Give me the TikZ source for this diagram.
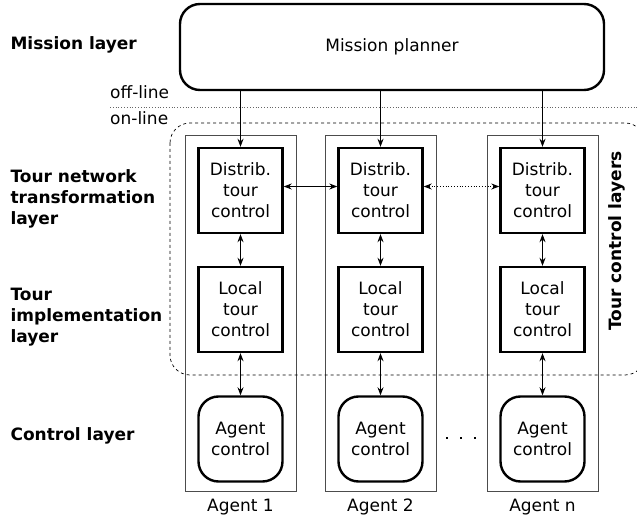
\documentclass[tikz,border=0pt]{standalone}
\usepackage{fontspec}
\setmainfont{DejaVu Sans}
\usetikzlibrary{arrows.meta}
\begin{document}
\begin{tikzpicture}[x=1pt,y=-1pt,
  every node/.style={font=\fontsize{17}{21}\selectfont},
  planner/.style={draw,line width=2.4pt,rounded corners=20pt,minimum width=424pt,minimum height=86pt},
  column/.style={draw=black!70,line width=0.9pt,minimum width=111pt,minimum height=356pt},
  ctrlbox/.style={draw,line width=2.4pt,minimum width=84pt,minimum height=85pt,align=center,inner sep=0pt},
  agentbox/.style={ctrlbox,rounded corners=20pt},
  layerlabel/.style={anchor=west,align=left,font=\fontsize{17}{21}\selectfont\bfseries},
  link/.style={line width=0.8pt,{Stealth[length=8pt,width=6pt]}-{Stealth[length=8pt,width=6pt]}},
  feed/.style={line width=0.8pt,-{Stealth[length=8pt,width=6pt]}}
]
\useasboundingbox (0,0) rectangle (637,518);

% agent columns
\foreach \i/\cx in {1/240.5,2/380.5,3/542.5}{
  \node[column] (col\i) at (\cx,313) {};
  \node[ctrlbox] (d\i) at (\cx,190.5) {Distrib.\\tour\\control};
  \node[ctrlbox] (l\i) at (\cx,309.5) {Local\\tour\\control};
  \node[agentbox] (a\i) at (\cx,439) {Agent\\control};
}
\node (n1) at (240.5,507) {Agent 1};
\node (n2) at (380.5,507) {Agent 2};
\node (n3) at (542.5,507) {Agent n};

% mission planner
\node[planner] (mp) at (392,47) {Mission planner};

% off-line / on-line separator
\coordinate (s1) at (110,107);
\coordinate (s2) at (637,107);
\draw[dotted,black!60,line width=0.8pt] (s1) -- (s2);
\node[anchor=west,inner sep=0pt] (off) at (110,92) {off-line};
\node[anchor=west,inner sep=0pt] (on) at (110,118) {on-line};

% tour control layers enclosure
\draw[dashed,line width=0.7pt,rounded corners=20pt] (170,123) rectangle (645,375);
\node[rotate=90,font=\fontsize{17}{21}\selectfont\bfseries] (tcl) at (617,241) {Tour control layers};

% connectors
\foreach \i in {1,2,3}{
  \draw[feed] (d\i.north |- mp.south) -- (d\i.north);
  \draw[link] (d\i) -- (l\i);
  \draw[link] (l\i) -- (a\i);
}
\draw[link] ([yshift=4pt]d1.east) -- ([yshift=4pt]d2.west);
\draw[link,dotted] ([yshift=4pt]d2.east) -- ([yshift=4pt]d3.west);

% ellipsis between columns
\foreach \x in {447,461,475}
  \fill (\x-1.3,436.7) rectangle (\x+1.3,439.3);

% layer labels
\node[layerlabel] (ml) at (7,45) {Mission layer};
\node[layerlabel] (tn) at (7,199) {Tour network\\transformation\\layer};
\node[layerlabel] (ti) at (7,317) {Tour\\implementation\\layer};
\node[layerlabel] (cl) at (7,436) {Control layer};
\end{tikzpicture}
\end{document}
